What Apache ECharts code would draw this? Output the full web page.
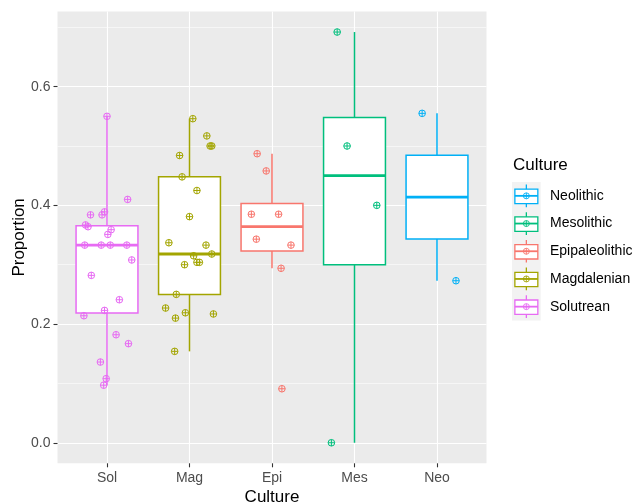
<!DOCTYPE html>
<html>
<head>
<meta charset="utf-8">
<script src="https://cdn.jsdelivr.net/npm/echarts@6/dist/echarts.min.js"></script>
<style>
  html, body { margin: 0; padding: 0; background: #ffffff; }
  #chart { width: 635px; height: 503px; }
</style>
</head>
<body>
<div id="chart"></div>
<script>
// Culture groups, in axis order
const categories = ['Sol', 'Mag', 'Epi', 'Mes', 'Neo'];
const cultureNames = ['Solutrean', 'Magdalenian', 'Epipaleolithic', 'Mesolithic', 'Neolithic'];
const cultureColors = ['#E76BF3', '#A3A500', '#F8766D', '#00BF7D', '#00B0F6'];

// Proportion per site, with the horizontal jitter each point was drawn with
const solValues = [0.550, 0.410, 0.384, 0.384, 0.389, 0.367, 0.364, 0.359, 0.351, 0.333, 0.333, 0.333, 0.333, 0.308, 0.282, 0.241, 0.223, 0.214, 0.182, 0.167, 0.136, 0.108, 0.097];
const solJitter = [0.00, 0.25, -0.20, -0.06, -0.03, -0.26, -0.23, 0.05, 0.01, -0.27, -0.07, 0.04, 0.24, 0.30, -0.19, 0.15, -0.03, -0.28, 0.11, 0.26, -0.08, -0.01, -0.04];

const magValues = [0.546, 0.517, 0.500, 0.500, 0.484, 0.448, 0.425, 0.381, 0.337, 0.333, 0.318, 0.315, 0.304, 0.304, 0.300, 0.250, 0.227, 0.210, 0.219, 0.217, 0.154];
const magJitter = [0.04, 0.21, 0.25, 0.27, -0.12, -0.09, 0.09, 0.00, -0.25, 0.20, 0.27, 0.05, 0.09, 0.12, -0.06, -0.16, -0.29, -0.17, -0.05, 0.29, -0.18];

const epiValues = [0.487, 0.458, 0.385, 0.385, 0.343, 0.333, 0.294, 0.091];
const epiJitter = [-0.18, -0.07, -0.25, 0.08, -0.19, 0.23, 0.11, 0.12];

const mesValues = [0.692, 0.500, 0.400, 0.000];
const mesJitter = [-0.21, -0.09, 0.27, -0.28];

const neoValues = [0.555, 0.273];
const neoJitter = [-0.18, 0.23];

const yTicks = [0.0, 0.2, 0.4, 0.6];
const yMinorTicks = [0.1, 0.3, 0.5, 0.7];

const groupValues = [solValues, magValues, epiValues, mesValues, neoValues];
const groupJitter = [solJitter, magJitter, epiJitter, mesJitter, neoJitter];

// Type-7 quantile (same as R's default)
function quantile(sorted, p) {
  const h = (sorted.length - 1) * p;
  const lo = Math.floor(h);
  const hi = Math.min(lo + 1, sorted.length - 1);
  return sorted[lo] + (h - lo) * (sorted[hi] - sorted[lo]);
}

function boxStats(values) {
  const s = values.slice().sort((a, b) => a - b);
  const q1 = quantile(s, 0.25), med = quantile(s, 0.5), q3 = quantile(s, 0.75);
  const iqr = q3 - q1;
  const inside = s.filter(v => v >= q1 - 1.5 * iqr && v <= q3 + 1.5 * iqr);
  return [inside[0], q1, med, q3, inside[inside.length - 1]];
}

// y range: data range padded by 5% on each side
const allValues = [].concat(...groupValues);
const dMin = Math.min(...allValues), dMax = Math.max(...allValues);
const pad = (dMax - dMin) * 0.05;
const yMin = dMin - pad, yMax = dMax + pad;

const BOX_HALF = 0.375;
const BOX_LINE = 1.5;

const boxSeries = groupValues.map((vals, i) => ({
  type: 'custom',
  name: cultureNames[i],
  xAxisIndex: 0,
  yAxisIndex: 0,
  z: 3,
  silent: true,
  dimensions: ['x', 'low', 'q1', 'med', 'q3', 'high'],
  encode: { x: 0, y: [1, 2, 3, 4, 5] },
  data: [[i].concat(boxStats(vals))],
  renderItem(params, api) {
    const x = api.value(0);
    const c = cultureColors[i];
    const low = api.coord([x, api.value(1)]);
    const q1L = api.coord([x - BOX_HALF, api.value(2)]);
    const q3R = api.coord([x + BOX_HALF, api.value(4)]);
    const medL = api.coord([x - BOX_HALF, api.value(3)]);
    const medR = api.coord([x + BOX_HALF, api.value(3)]);
    const high = api.coord([x, api.value(5)]);
    const q1 = api.coord([x, api.value(2)]);
    const q3 = api.coord([x, api.value(4)]);
    return {
      type: 'group',
      children: [
        { type: 'line', shape: { x1: high[0], y1: high[1], x2: q3[0], y2: q3[1] }, style: { stroke: c, lineWidth: BOX_LINE } },
        { type: 'line', shape: { x1: q1[0], y1: q1[1], x2: low[0], y2: low[1] }, style: { stroke: c, lineWidth: BOX_LINE } },
        { type: 'rect', shape: { x: q1L[0], y: q3R[1], width: q3R[0] - q1L[0], height: q1L[1] - q3R[1] },
          style: { fill: '#ffffff', stroke: c, lineWidth: BOX_LINE } },
        { type: 'line', shape: { x1: medL[0], y1: medL[1], x2: medR[0], y2: medR[1] }, style: { stroke: c, lineWidth: 2.8 } }
      ]
    };
  }
}));

const POINT_R = 3.3;
const pointSeries = groupValues.map((vals, i) => ({
  type: 'custom',
  name: cultureNames[i] + ' sites',
  xAxisIndex: 0,
  yAxisIndex: 0,
  z: 4,
  silent: true,
  dimensions: ['x', 'y'],
  encode: { x: 0, y: 1 },
  data: vals.map((v, k) => [i + groupJitter[i][k], v]),
  renderItem(params, api) {
    const p = api.coord([api.value(0), api.value(1)]);
    const c = cultureColors[i];
    const st = { stroke: c, lineWidth: 1, fill: null };
    return {
      type: 'group',
      children: [
        { type: 'circle', shape: { cx: p[0], cy: p[1], r: POINT_R }, style: st },
        { type: 'line', shape: { x1: p[0] - POINT_R, y1: p[1], x2: p[0] + POINT_R, y2: p[1] }, style: st },
        { type: 'line', shape: { x1: p[0], y1: p[1] - POINT_R, x2: p[0], y2: p[1] + POINT_R }, style: st }
      ]
    };
  }
}));

// Legend: boxplot key glyphs on a light grey strip, listed in reverse axis order
const legendLeft = 512, legendTop = 182, keyW = 28.7, keyH = 27.7;
const legendGraphics = [
  { type: 'text', left: 513, top: 157, style: { text: 'Culture', font: '17px "Liberation Sans", Arial, sans-serif', fill: '#000' } },
  { type: 'rect', shape: { x: legendLeft, y: legendTop, width: keyW, height: keyH * 5 }, style: { fill: '#F2F2F2' } }
];
for (let j = 0; j < 5; j++) {
  const i = 4 - j;
  const c = cultureColors[i];
  const top = legendTop + j * keyH;
  const cx = legendLeft + keyW / 2, cy = top + keyH / 2;
  const st = { stroke: c, lineWidth: 1.3, fill: null };
  legendGraphics.push(
    { type: 'line', shape: { x1: cx, y1: top + 2.5, x2: cx, y2: top + keyH - 2.5 }, style: st },
    { type: 'rect', shape: { x: legendLeft + keyW * 0.1, y: top + keyH * 0.26, width: keyW * 0.8, height: keyH * 0.52 }, style: { stroke: c, lineWidth: 1.3, fill: '#ffffff' } },
    { type: 'line', shape: { x1: legendLeft + keyW * 0.1, y1: cy, x2: legendLeft + keyW * 0.9, y2: cy }, style: { stroke: c, lineWidth: 1.8 } },
    { type: 'circle', shape: { cx: cx, cy: cy, r: 3 }, style: { stroke: c, lineWidth: 0.9, fill: null } },
    { type: 'line', shape: { x1: cx - 3, y1: cy, x2: cx + 3, y2: cy }, style: { stroke: c, lineWidth: 0.9 } },
    { type: 'line', shape: { x1: cx, y1: cy - 3, x2: cx, y2: cy + 3 }, style: { stroke: c, lineWidth: 0.9 } },
    { type: 'text', x: 550, y: cy, style: { text: cultureNames[i], font: '14px "Liberation Sans", Arial, sans-serif', fill: '#000', verticalAlign: 'middle', align: 'left' } }
  );
}

const chart = echarts.init(document.getElementById('chart'), null, { renderer: 'canvas' });
const FONT = '"Liberation Sans", Arial, sans-serif';

chart.setOption({
  animation: false,
  backgroundColor: '#ffffff',
  grid: {
    left: 57.5, right: 148.5, top: 11.5, bottom: 39.7,
    containLabel: false, outerBoundsMode: 'none',
    show: true, backgroundColor: '#EBEBEB', borderWidth: 0
  },
  xAxis: [{
    type: 'value',
    min: -0.6, max: 4.6,
    name: 'Culture', nameLocation: 'middle', nameGap: 26, nameMoveOverlap: false,
    nameTextStyle: { fontFamily: FONT, fontSize: 17, color: '#000' },
    axisLine: { show: false, onZero: false },
    axisTick: { show: true, length: 4, lineStyle: { color: '#333333', width: 1.1 }, customValues: [0, 1, 2, 3, 4] },
    axisLabel: { customValues: [0, 1, 2, 3, 4], formatter: v => categories[Math.round(v)], fontFamily: FONT, fontSize: 14, color: '#4D4D4D', margin: 8 },
    splitLine: { show: true, lineStyle: { color: '#ffffff', width: 1.1 } }
  }],
  yAxis: [{
    type: 'value',
    min: yMin, max: yMax,
    name: 'Proportion', nameLocation: 'middle', nameGap: 30, nameMoveOverlap: false,
    nameTextStyle: { fontFamily: FONT, fontSize: 17, color: '#000' },
    axisLine: { show: false, onZero: false },
    axisTick: { show: true, length: 4, lineStyle: { color: '#333333', width: 1.1 }, customValues: yTicks },
    axisLabel: { customValues: yTicks, formatter: v => v.toFixed(1), fontFamily: FONT, fontSize: 14, color: '#4D4D4D', margin: 7 },
    splitLine: { show: true, lineStyle: { color: '#ffffff', width: 1.1 } }
  }, {
    type: 'value',
    min: yMin, max: yMax,
    position: 'left',
    axisLine: { show: false, onZero: false },
    axisTick: { show: false, customValues: yMinorTicks },
    axisLabel: { show: false, customValues: yMinorTicks },
    splitLine: { show: true, lineStyle: { color: '#ffffff', width: 0.55 } }
  }],
  graphic: legendGraphics,
  series: boxSeries.concat(pointSeries)
});
</script>
</body>
</html>
